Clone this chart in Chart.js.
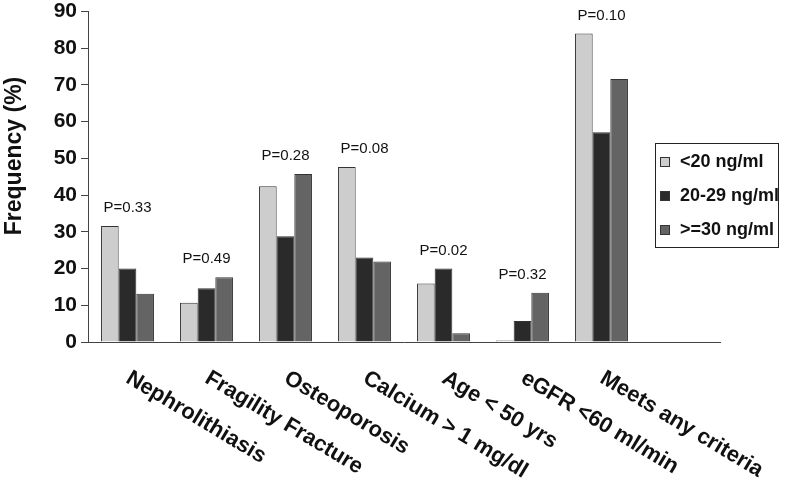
<!DOCTYPE html>
<html>
<head>
<meta charset="utf-8">
<script src="https://cdn.jsdelivr.net/npm/chart.js@4"></script>
<style>
  body { margin: 0; background: #fff; }
  #wrap { width: 788px; height: 481px; }
</style>
</head>
<body>
<div id="wrap"><canvas id="freq-chart"></canvas></div>
<script>
// frequency of criteria by vitamin D group

const categories = [
  "Nephrolithiasis",
  "Fragility Fracture",
  "Osteoporosis",
  "Calcium > 1 mg/dl",
  "Age < 50 yrs",
  "eGFR <60 ml/min",
  "Meets any criteria",
  "",
];
const seriesLabels = ["<20 ng/ml", "20-29 ng/ml", ">=30 ng/ml"];
const under20 = [31.6, 10.7, 42.4, 47.6, 15.9, 0.4, 84.0];
const from20to29 = [20.0, 14.6, 28.8, 23.0, 20.0, 5.7, 57.1];
const over30 = [13.1, 17.6, 45.7, 21.9, 2.4, 13.4, 71.6];
const pValues = ["P=0.33", "P=0.49", "P=0.28", "P=0.08", "P=0.02", "P=0.32", "P=0.10"];
const yTitle = "Frequency (%)";
const yMax = 90;
const yStep = 10;

const FONT = "'Liberation Sans', Arial, sans-serif";

// p-values above groups, rotated category labels, axis title, boxed legend
const annotations = {
  id: "annotations",
  afterDraw(chart) {
    const ctx = chart.ctx;
    const x = chart.scales.x;
    const y = chart.scales.y;
    const sets = chart.data.datasets;

    ctx.save();
    ctx.fillStyle = "#111";
    ctx.font = "15px " + FONT;
    ctx.textAlign = "center";
    ctx.textBaseline = "middle";
    pValues.forEach((p, i) => {
      const top = Math.max(...sets.map((ds) => ds.data[i]));
      ctx.fillText(p, x.getPixelForValue(i), y.getPixelForValue(top) - 18);
    });

    // y title, sits a bit above the middle of the axis
    ctx.save();
    ctx.font = "bold 23px " + FONT;
    ctx.textBaseline = "alphabetic";
    ctx.translate(21, 156);
    ctx.rotate(-Math.PI / 2);
    ctx.fillText(yTitle, 0, 0);
    ctx.restore();

    ctx.font = "bold 22px " + FONT;
    ctx.textAlign = "left";
    ctx.textBaseline = "top";
    categories.forEach((label, i) => {
      if (!label) return;
      ctx.save();
      ctx.translate(x.getPixelForValue(i) + 6, x.top + 25);
      ctx.rotate((31 * Math.PI) / 180);
      ctx.fillText(label, 0, 0);
      ctx.restore();
    });

    // legend
    const lx = 655, ly = 143, lw = 123, lh = 104;
    ctx.fillStyle = "#fff";
    ctx.fillRect(lx, ly, lw, lh);
    ctx.strokeStyle = "#222";
    ctx.lineWidth = 1;
    ctx.strokeRect(lx + 0.5, ly + 0.5, lw, lh);
    ctx.font = "bold 18px " + FONT;
    ctx.textBaseline = "middle";
    sets.forEach((ds, i) => {
      const rowY = ly + 19 + i * 34;
      ctx.fillStyle = ds.backgroundColor;
      ctx.fillRect(lx + 5, rowY - 5, 10, 10);
      ctx.strokeStyle = "#333";
      ctx.strokeRect(lx + 5.5, rowY - 4.5, 9, 9);
      ctx.fillStyle = "#111";
      ctx.fillText(ds.label, lx + 25, rowY);
    });
    ctx.restore();
  },
};

const ctx = document.getElementById("freq-chart").getContext("2d");
const chart = new Chart(ctx, {
  type: "bar",
  data: {
    labels: categories,
    datasets: [
      { label: seriesLabels[0], data: under20, backgroundColor: "#cdcdcd" },
      { label: seriesLabels[1], data: from20to29, backgroundColor: "#2a2a2a" },
      { label: seriesLabels[2], data: over30, backgroundColor: "#646464" },
    ].map((ds) => ({
      ...ds,
      borderColor: "#333",
      borderWidth: 1,
      categoryPercentage: 0.67,
      barPercentage: 1.0,
    })),
  },
  options: {
    responsive: true,
    maintainAspectRatio: false,
    animation: false,
    layout: { padding: { top: 0, right: 68, left: 0, bottom: 0 } },
    plugins: {
      legend: { display: false },
      tooltip: { enabled: false },
    },
    scales: {
      x: {
        grid: { display: true, drawOnChartArea: false, drawTicks: false },
        border: { display: true, color: "#444", width: 1 },
        ticks: { display: false },
        afterFit: (scale) => {
          scale.height = 139;
        },
      },
      y: {
        min: 0,
        max: yMax,
        ticks: {
          stepSize: yStep,
          color: "#111",
          padding: 4,
          font: { family: FONT, size: 21, weight: "bold", lineHeight: 0.7 },
        },
        grid: { drawOnChartArea: false, drawTicks: true, tickLength: 7, color: "#444" },
        border: { display: true, color: "#444", width: 1 },
        afterFit: (scale) => {
          scale.width = 88;
        },
      },
    },
  },
  plugins: [annotations],
});
</script>
</body>
</html>
